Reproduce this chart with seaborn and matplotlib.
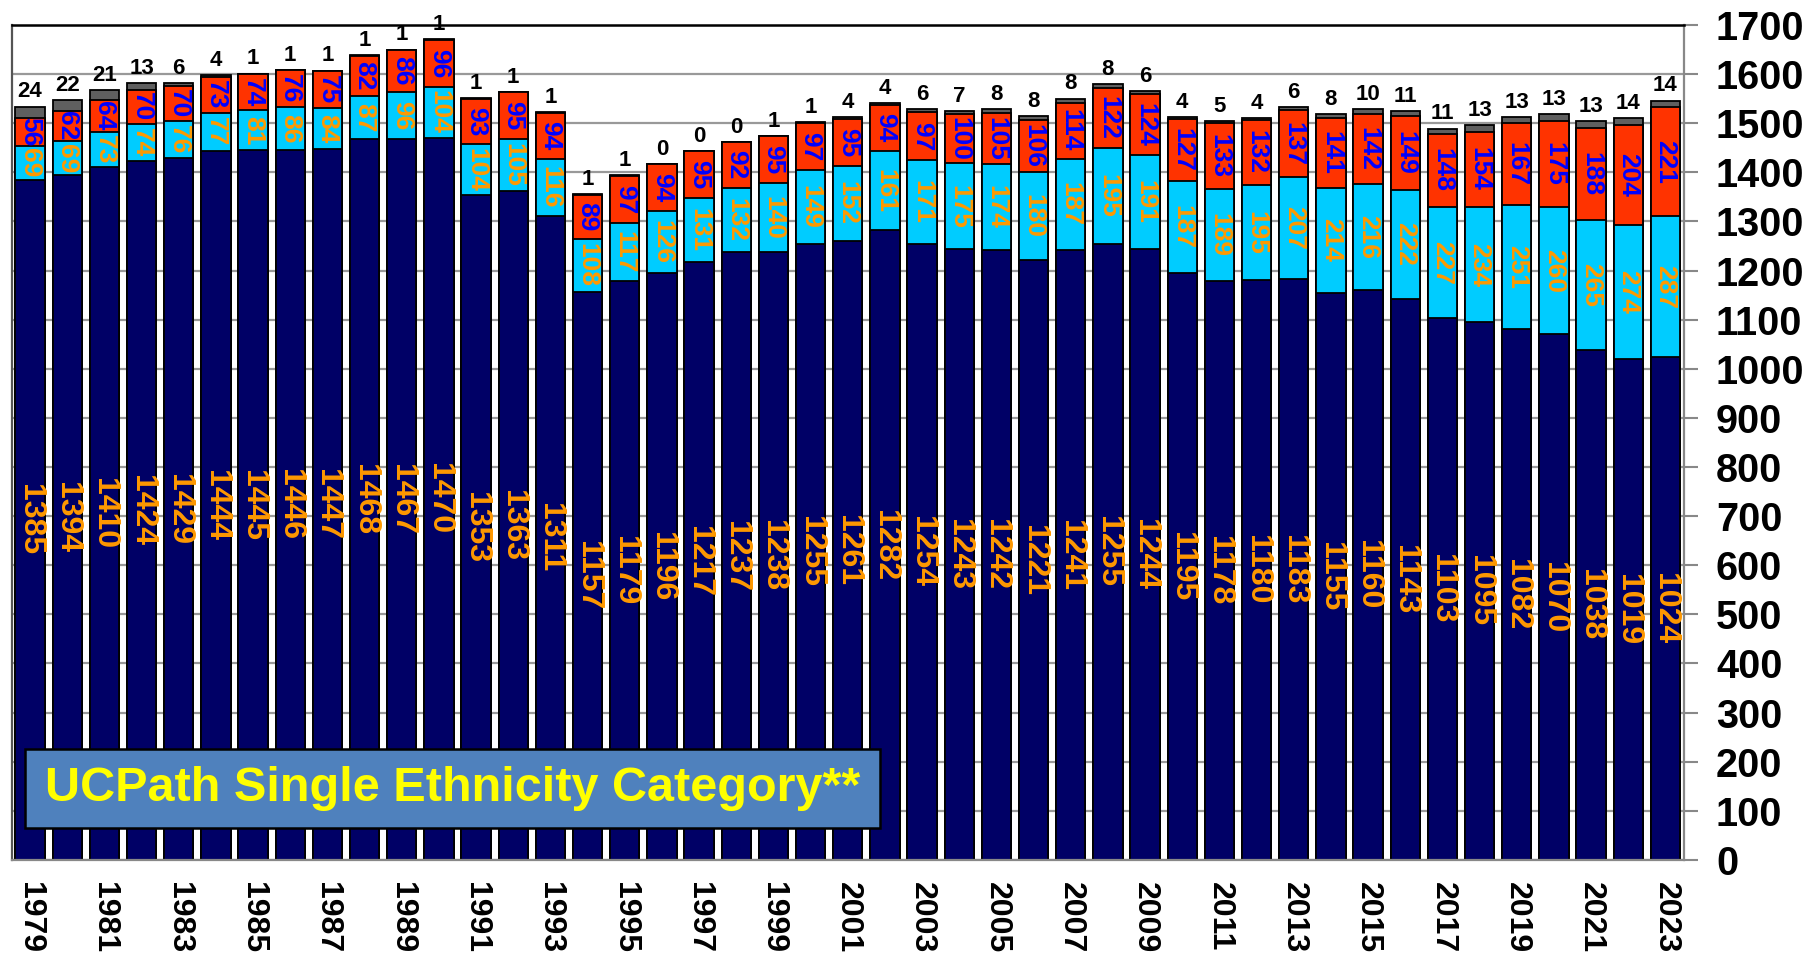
import numpy as np
import pandas as pd
import matplotlib
matplotlib.use('Agg')
import matplotlib.pyplot as plt
import seaborn as sns
from matplotlib.patches import Rectangle

# --- data ---
years = list(range(1979, 2024))
navy_vals = [1385, 1394, 1410, 1424, 1429, 1444, 1445, 1446, 1447, 1468, 1467, 1470,
             1353, 1363, 1311, 1157, 1179, 1196, 1217, 1237, 1238, 1255, 1261, 1282,
             1254, 1243, 1242, 1221, 1241, 1255, 1244, 1195, 1178, 1180, 1183, 1155,
             1160, 1143, 1103, 1095, 1082, 1070, 1038, 1019, 1024]
cyan_vals = [69, 69, 73, 74, 76, 77, 81, 86, 84, 87, 96, 104,
             104, 105, 116, 108, 117, 126, 131, 132, 140, 149, 152, 161,
             171, 175, 174, 180, 187, 195, 191, 187, 189, 195, 207, 214,
             216, 222, 227, 234, 251, 260, 265, 274, 287]
red_vals = [56, 62, 64, 70, 70, 73, 74, 76, 75, 82, 86, 96,
            93, 95, 94, 89, 97, 94, 95, 92, 95, 97, 95, 94,
            97, 100, 105, 106, 114, 122, 124, 127, 133, 132, 137, 141,
            142, 149, 148, 154, 167, 175, 188, 204, 221]
gray_vals = [24, 22, 21, 13, 6, 4, 1, 1, 1, 1, 1, 1,
             1, 1, 1, 1, 1, 0, 0, 0, 1, 1, 4, 4,
             6, 7, 8, 8, 8, 8, 6, 4, 5, 4, 6, 8,
             10, 11, 11, 13, 13, 13, 13, 14, 14]
y_ticks = list(range(0, 1800, 100))
box_title = "UCPath Single Ethnicity Category**"

NAVY, CYAN, RED, GRAY = '#000066', '#00CCFF', '#FF3300', '#5F5F5F'
ORANGE, BLUE = '#FF9900', '#0000FF'

df = pd.DataFrame({'year': [str(y) for y in years], 'navy': navy_vals,
                   'cyan': cyan_vals, 'red': red_vals, 'gray': gray_vals})
df['c1'] = df['navy'] + df['cyan']
df['c2'] = df['c1'] + df['red']
df['c3'] = df['c2'] + df['gray']

sns.set_style('white')
plt.rcParams['font.family'] = ['Liberation Sans', 'DejaVu Sans']

fig = plt.figure(figsize=(18.02, 9.57), dpi=100)
ax = fig.add_axes([0.0064, 0.1014, 0.9281, 0.8725])

# stacked bars drawn as overlapping cumulative totals, tallest first
for col, colr in [('c3', GRAY), ('c2', RED), ('c1', CYAN), ('navy', NAVY)]:
    sns.barplot(data=df, x='year', y=col, color=colr, width=0.79, saturation=1,
                edgecolor='black', linewidth=1.3, ax=ax, zorder=2)

ax.set_xlim(-0.5, len(years) - 0.5)
ax.set_ylim(0, 1700)
ax.set_xlabel('')
ax.set_ylabel('')

# segment labels
for i in range(len(years)):
    n, c, r, g = navy_vals[i], cyan_vals[i], red_vals[i], gray_vals[i]
    ax.text(i, n / 2, str(n), rotation=270, ha='center', va='center',
            color=ORANGE, fontsize=23, fontweight='bold', zorder=5)
    ax.text(i, n + c / 2, str(c), rotation=270, ha='center', va='center',
            color=ORANGE, fontsize=19, fontweight='bold', zorder=5)
    ax.text(i, n + c + r / 2, str(r), rotation=270, ha='center', va='center',
            color=BLUE, fontsize=19, fontweight='bold', zorder=5)
    ax.annotate(str(g), (i, n + c + r + g), xytext=(0, 3), textcoords='offset points',
                ha='center', va='bottom', fontsize=16, fontweight='bold',
                color='black', annotation_clip=False, zorder=5)

# axes styling
ax.yaxis.tick_right()
ax.set_yticks(y_ticks)
ax.set_yticklabels([str(v) for v in y_ticks], fontsize=28.5, fontweight='bold')
ax.tick_params(axis='y', right=True, length=10, width=1.5, color='#888888',
               labelcolor='black', pad=13)
ax.set_xticks(range(len(years)))
ax.set_xticklabels([str(y) if (y - years[0]) % 2 == 0 else '' for y in years],
                   rotation=270, fontsize=23, fontweight='bold')
ax.tick_params(axis='x', length=0, pad=16, labelcolor='black')
for lab in ax.get_xticklabels():
    lab.set_va('top')
    lab.set_ha('center')

ax.yaxis.grid(True, color='#999999', linewidth=1.6, zorder=0)
ax.set_axisbelow(True)
for side in ['left', 'bottom', 'right']:
    ax.spines[side].set_color('#888888')
    ax.spines[side].set_linewidth(1.6)
ax.spines['top'].set_color('black')
ax.spines['top'].set_linewidth(1.8)
ax.spines['left'].set_color('#555555')

# title box
ax.add_patch(Rectangle((0.008, 0.0385), 0.511, 0.0945, transform=ax.transAxes,
                       facecolor='#4F81BD', edgecolor='black', linewidth=1.8, zorder=6))
ax.text(0.2635, 0.0857, box_title, transform=ax.transAxes, ha='center', va='center',
        color='#FFFF00', fontsize=35, fontweight='bold', zorder=7)

fig.savefig('out.png', dpi=100)
plt.close(fig)
